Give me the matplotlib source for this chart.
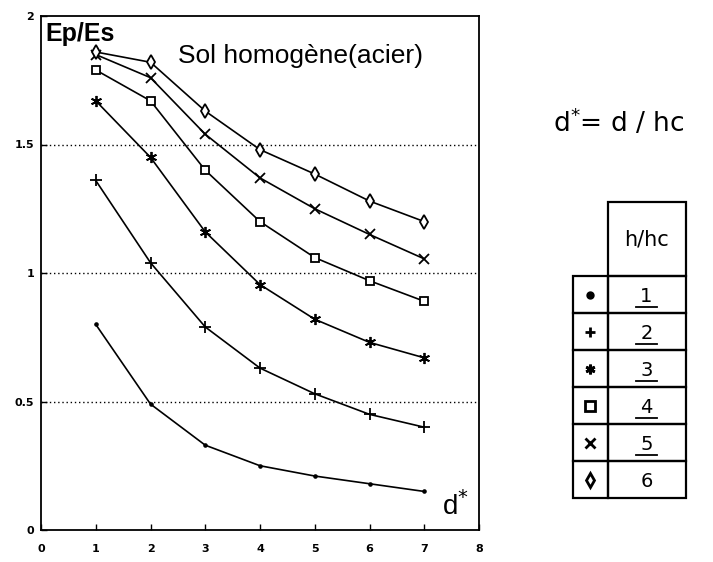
import matplotlib.pyplot as plt
from matplotlib.patches import Rectangle

# abscisse d* = d/hc
d_star = [1, 2, 3, 4, 5, 6, 7]

# Ep/Es pour chaque h/hc
ep_es_1 = [0.80, 0.49, 0.33, 0.25, 0.21, 0.18, 0.15]
ep_es_2 = [1.36, 1.04, 0.79, 0.63, 0.53, 0.45, 0.40]
ep_es_3 = [1.67, 1.45, 1.16, 0.955, 0.82, 0.73, 0.67]
ep_es_4 = [1.79, 1.67, 1.40, 1.20, 1.06, 0.97, 0.89]
ep_es_5 = [1.85, 1.76, 1.54, 1.37, 1.25, 1.15, 1.055]
ep_es_6 = [1.86, 1.82, 1.63, 1.48, 1.385, 1.28, 1.20]

h_hc = [1, 2, 3, 4, 5, 6]
series = [ep_es_1, ep_es_2, ep_es_3, ep_es_4, ep_es_5, ep_es_6]

x_ticks = [0, 1, 2, 3, 4, 5, 6, 7, 8]
y_ticks = [0, 0.5, 1, 1.5, 2]
y_tick_labels = ["0", "0.5", "1", "1.5", "2"]

# marqueurs (style)
markers = [".", "+", (6, 2, 0), "s", "x", "d"]
msizes = [4, 8.5, 8, 5.5, 7, 7]

W, H = 713, 562
fig = plt.figure(figsize=(W / 100, H / 100), dpi=100)
ax = fig.add_axes([41 / W, 32 / H, 438 / W, 514 / H])

for vals, m, ms in zip(series, markers, msizes):
    ax.plot(d_star, vals, color="black", linewidth=1.2, marker=m, markersize=ms,
            markerfacecolor="white" if m in ("s", "d") else "black",
            markeredgecolor="black", markeredgewidth=1.3)

ax.set_xlim(0, 8)
ax.set_ylim(0, 2)
ax.set_xticks(x_ticks)
ax.set_xticklabels([str(v) for v in x_ticks], fontsize=8, fontweight="bold")
ax.set_yticks(y_ticks)
ax.set_yticklabels(y_tick_labels, fontsize=8, fontweight="bold")
ax.tick_params(direction="in", length=4, width=1)
ax.tick_params(axis="x", pad=10)
ax.tick_params(axis="y", pad=5)
for s in ax.spines.values():
    s.set_linewidth(1.3)

for yv in [0.5, 1, 1.5]:
    ax.axhline(yv, color="black", linestyle=(0, (1, 2)), linewidth=1)

ax.text(0.01, 0.988, "Ep/Es", transform=ax.transAxes, fontsize=18,
        fontweight="bold", va="top", ha="left", family="Liberation Sans")
ax.text(0.313, 0.909, "Sol homogène(acier)", transform=ax.transAxes,
        fontsize=19, va="baseline", ha="left", family="Liberation Sans")
ax.text(0.916, 0.029, "d$^{*}$", transform=ax.transAxes, fontsize=20,
        va="baseline", ha="left", family="Liberation Sans")

fig.text(553 / W, (H - 132) / H, "d$^{*}$= d / hc", fontsize=19,
         va="baseline", ha="left")

# tableau h/hc
tab = fig.add_axes([573 / W, (H - 498) / H, 113 / W, 296 / H])
tab.set_xlim(0, 3.23)
tab.set_ylim(8, 0)
tab.axis("off")
lw = 1.6
tab.add_patch(Rectangle((1, 0), 2.23, 2, fill=False, linewidth=lw, clip_on=False))
tab.text(2.1, 1.0, "h/hc", fontsize=15, ha="center", va="center")
for i, (val, m) in enumerate(zip(h_hc, markers)):
    y0 = 2 + i
    tab.add_patch(Rectangle((0, y0), 1, 1, fill=False, linewidth=lw, clip_on=False))
    tab.add_patch(Rectangle((1, y0), 2.23, 1, fill=False, linewidth=lw, clip_on=False))
    tab.plot([0.5], [y0 + 0.5], marker=m, color="black", markersize=7 if m != "." else 8,
             markerfacecolor="white" if m in ("s", "d") else "black",
             markeredgewidth=2, clip_on=False)
    tab.text(2.1, y0 + 0.55, str(val), fontsize=14, ha="center", va="center")
    if val < 6:
        tab.plot([1.8, 2.4], [y0 + 0.85, y0 + 0.85], color="black", linewidth=1.3)

fig.savefig("out.png", dpi=100)
